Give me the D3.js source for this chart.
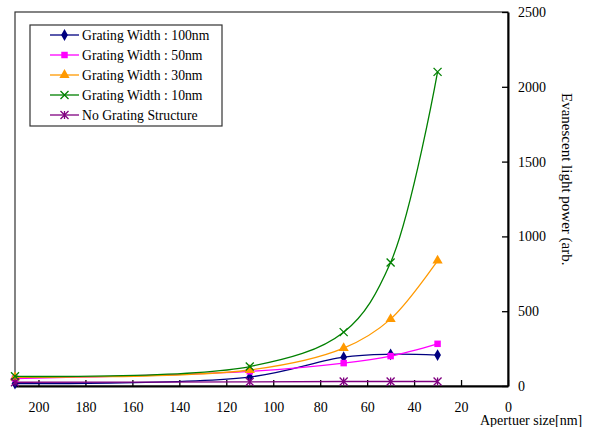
<!DOCTYPE html>
<html>
<head>
<meta charset="utf-8">
<script src="https://cdn.jsdelivr.net/npm/d3@7"></script>
<style>
  body { margin: 0; background: #fff; }
</style>
</head>
<body>
<div class="chart-wrapper"></div>
<script>
// aperture sizes (nm)
var apertures = [210, 110, 70, 50, 30];

var seriesNames = [
  "Grating Width : 100nm",
  "Grating Width : 50nm",
  "Grating Width : 30nm",
  "Grating Width : 10nm",
  "No Grating Structure"
];
var seriesColors = ["#000080", "#ff00ff", "#ff9900", "#008000", "#800080"];
var seriesMarkers = ["diamond", "square", "triangle", "cross", "star"];

var w100 = [16, 60, 193, 212, 207];
var w50 = [50, 98, 153, 200, 282];
var w30 = [58, 107, 253, 447, 838];
var w10 = [65, 130, 360, 826, 2100];
var noGrating = [25, 28, 30, 30, 30];
var seriesValues = [w100, w50, w30, w10, noGrating];

var xTicks = [200, 180, 160, 140, 120, 100, 80, 60, 40, 20, 0];
var yTicks = [0, 500, 1000, 1500, 2000, 2500];

var chartWidth = 589, chartHeight = 427;
var plotLeft = 15, plotRight = 508, plotTop = 12, plotBottom = 386;
var serif = "'Liberation Serif', 'Times New Roman', serif";

var svg = d3.select(".chart-wrapper").append("svg")
  .attr("width", chartWidth)
  .attr("height", chartHeight)
  .style("font-family", serif);

var x = d3.scaleLinear().domain([210, 0]).range([plotLeft, plotRight]);
var y = d3.scaleLinear().domain([0, 2500]).range([plotBottom, plotTop]);

// frame
svg.append("rect")
  .attr("x", plotLeft).attr("y", plotTop)
  .attr("width", plotRight - plotLeft).attr("height", plotBottom - plotTop)
  .attr("fill", "none").attr("stroke", "#333").attr("stroke-width", 1.2);

// x axis (ticks inside)
var xAxis = svg.append("g")
  .attr("transform", "translate(0," + plotBottom + ")")
  .call(d3.axisBottom(x).tickValues(xTicks).tickFormat(d3.format("d"))
    .tickSizeInner(-6).tickSizeOuter(0).tickPadding(16));
xAxis.select(".domain").attr("stroke", "#000").attr("stroke-width", 2);
xAxis.selectAll(".tick line").attr("stroke", "#000").attr("stroke-width", 1.3);
xAxis.selectAll("text").style("font-size", "14px").style("font-family", serif);

// y axis on the right
var yAxis = svg.append("g")
  .attr("transform", "translate(" + plotRight + ",0)")
  .call(d3.axisRight(y).tickValues(yTicks).tickFormat(d3.format("d"))
    .tickSizeInner(-6).tickSizeOuter(0).tickPadding(10));
yAxis.select(".domain").attr("stroke", "#000").attr("stroke-width", 2);
yAxis.selectAll(".tick line").attr("stroke", "#000").attr("stroke-width", 1.3);
yAxis.selectAll("text").style("font-size", "14px").style("font-family", serif);

// axis titles
svg.append("text")
  .attr("x", 480).attr("y", 425)
  .style("font-size", "14px").style("font-family", serif)
  .text("Apertuer size[nm]");

// the right-hand title is cut off at the bottom in the original
svg.append("clipPath").attr("id", "ytitle-clip")
  .append("rect").attr("x", 540).attr("y", 0).attr("width", 49).attr("height", 265);

svg.append("g")
  .attr("clip-path", "url(#ytitle-clip)")
  .append("text")
  .attr("transform", "translate(562,93) rotate(90)")
  .style("font-size", "15px").style("font-family", serif)
  .text("Evanescent light power (arb.)");

// marker drawing
function drawMarker(g, type, color) {
  if (type === "diamond") {
    g.append("path").attr("d", d3.symbol(d3.symbolDiamond, 40)()).attr("fill", color);
  } else if (type === "square") {
    g.append("path").attr("d", d3.symbol(d3.symbolSquare, 42)()).attr("fill", color);
  } else if (type === "triangle") {
    g.append("path").attr("d", d3.symbol(d3.symbolTriangle, 45)()).attr("fill", color);
  } else if (type === "cross") {
    g.append("path").attr("d", "M-4,-4L4,4M-4,4L4,-4").attr("stroke", color).attr("stroke-width", 1.3).attr("fill", "none");
  } else {
    g.append("path").attr("d", "M-4,-4L4,4M-4,4L4,-4M0,-4L0,4").attr("stroke", color).attr("stroke-width", 1.3).attr("fill", "none");
  }
}

var line = d3.line()
  .x(function (d) { return x(d[0]); })
  .y(function (d) { return y(d[1]); })
  .curve(d3.curveCatmullRom.alpha(0.5));

seriesValues.forEach(function (vals, i) {
  var pts = apertures.map(function (a, j) { return [a, vals[j]]; });
  var g = svg.append("g");
  g.append("path")
    .datum(pts)
    .attr("d", line)
    .attr("fill", "none")
    .attr("stroke", seriesColors[i])
    .attr("stroke-width", 1.3);
  pts.forEach(function (p) {
    var m = g.append("g").attr("transform", "translate(" + x(p[0]) + "," + y(p[1]) + ")");
    drawMarker(m, seriesMarkers[i], seriesColors[i]);
  });
});

// legend
var legend = svg.append("g").attr("transform", "translate(30,25)");
legend.append("rect")
  .attr("width", 192).attr("height", 101)
  .attr("fill", "#fff").attr("stroke", "#333").attr("stroke-width", 1.2);

seriesNames.forEach(function (name, i) {
  var row = legend.append("g").attr("transform", "translate(0," + (10 + i * 20) + ")");
  row.append("line")
    .attr("x1", 20).attr("x2", 49)
    .attr("stroke", seriesColors[i]).attr("stroke-width", 1.3);
  var m = row.append("g").attr("transform", "translate(34.5,0)");
  drawMarker(m, seriesMarkers[i], seriesColors[i]);
  row.append("text")
    .attr("x", 52).attr("y", 4.5)
    .style("font-size", "13.7px").style("font-family", serif)
    .text(name);
});
</script>
</body>
</html>
